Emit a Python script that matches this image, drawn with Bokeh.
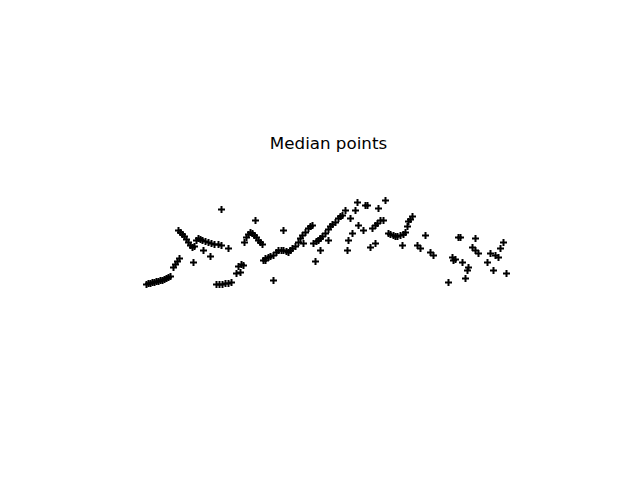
from bokeh.plotting import figure
from bokeh.models import Range1d, Label, ColumnDataSource
from bokeh.embed import file_html
from bokeh.resources import INLINE

title_text = "Median points"

x = [146, 148, 150, 152, 154, 156, 158, 160, 162, 164, 166, 168, 170,
     173, 175, 177, 179,
     178, 180, 182, 184, 186, 188, 190, 192, 194,
     196, 198, 200, 202, 205, 208, 211, 214, 218, 221,
     193, 203, 210, 228, 221, 255,
     216, 219, 222, 225, 228, 231,
     236, 240, 238, 241, 243,
     244, 246, 248, 250, 252, 254, 256, 258, 260, 262,
     265,
     263, 265, 268, 270, 273, 276, 278, 281, 283, 286, 288, 290, 292, 295, 298, 300, 302, 305, 308, 310, 312,
     283, 273, 303,
     313, 316, 318, 320, 322, 325, 328, 330, 332, 335, 338, 340, 342,
     328, 320, 315,
     345, 350, 355, 357, 365, 358, 352, 348, 347, 363,
     370, 375, 372, 375, 377, 380, 378, 385, 388, 367, 383,
     390, 393, 395, 397, 400, 403, 405,
     407, 408, 410, 412,
     402, 417, 420, 425, 430, 433,
     458, 460, 452, 453, 455, 462, 468, 467, 465, 448,
     475, 472, 475, 478, 487, 490, 495, 498, 500, 503, 493, 506]
y = [284, 283, 283, 282, 282, 281, 281, 280, 280, 279, 278, 277, 276,
     267, 264, 261, 258,
     230, 232, 234, 236, 239, 242, 245, 247, 246,
     240, 238, 239, 240, 241, 242, 243, 244, 244, 245,
     262, 250, 256, 248, 209, 220,
     284, 284, 284, 283, 283, 282,
     273, 272, 266, 264, 265,
     242, 237, 234, 232, 233, 235, 237, 240, 242, 244,
     260,
     260, 258, 257, 256, 255, 252, 250, 250, 250, 251, 252, 250, 248, 246, 242, 238, 235, 232, 228, 226, 225,
     230, 280, 243,
     243, 241, 240, 238, 236, 233, 229, 226, 224, 222, 218, 216, 215,
     240, 250, 261,
     210, 218, 210, 202, 205, 225, 233, 240, 250, 230,
     247, 243, 228, 225, 223, 220, 208, 200, 233, 205, 220,
     234, 235, 236, 236, 235, 234, 232,
     226, 221, 219, 216,
     245, 245, 248, 235, 252, 255,
     237, 237, 257, 260, 259, 262, 267, 270, 278, 282,
     238, 247, 250, 253, 262, 253, 255, 257, 248, 242, 270, 273]

src = ColumnDataSource(data=dict(x=x, y=y))

p = figure(width=624, height=464, output_backend="svg", toolbar_location=None,
           x_range=Range1d(0, 624), y_range=Range1d(464, 0), min_border=0)
p.xaxis.visible = False
p.yaxis.visible = False
p.grid.visible = False
p.outline_line_color = None
p.background_fill_color = "white"
p.border_fill_color = "white"

p.scatter("x", "y", source=src, marker="cross", size=7, line_width=2,
          line_color="black", fill_color="black")

p.add_layout(Label(x=328, y=142, text=title_text, text_align="center",
                   text_baseline="middle", text_font="DejaVu Sans",
                   text_font_size="16.7px", text_color="black"))

open("out.html", "w").write(file_html(p, INLINE))
